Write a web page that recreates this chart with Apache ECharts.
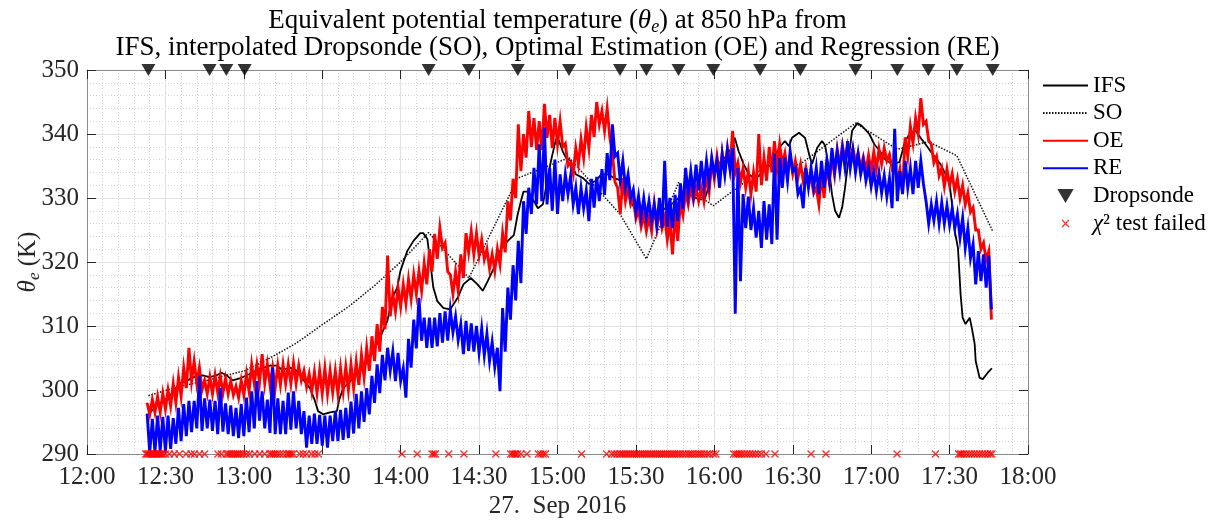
<!DOCTYPE html>
<html>
<head>
<meta charset="utf-8">
<script src="https://cdn.jsdelivr.net/npm/echarts@6/dist/echarts.min.js"></script>
<style>
  html, body { margin: 0; padding: 0; background: #ffffff; }
  #chart { width: 1230px; height: 522px; }
</style>
</head>
<body>
<div id="chart"></div>
<script>
// Time is counted in minutes after 12:00 UTC on 27 Sep 2016.
const timeLabels = ['12:00', '12:30', '13:00', '13:30', '14:00', '14:30', '15:00',
                    '15:30', '16:00', '16:30', '17:00', '17:30', '18:00'];
const thetaTicks = [290, 300, 310, 320, 330, 340, 350];

// Retrieval traces (OE, RE) are stored as upper / lower envelopes of the
// noisy 1 Hz signal, one pair every 2 minutes starting at 12:23.
const binStart = 23;
const binStep = 2;

const oeHigh = [
  298, 298.5, 299, 299.5, 300, 301, 302, 303.5, 306.6, 304.5,
  303.5, 301.5, 302, 302.3, 302.2, 301.8, 301.4, 300.6, 301.5, 302.5,
  304, 304, 305.6, 304, 303.5, 303.8, 304, 304, 304.2, 303.8,
  303, 302.5, 302.8, 303, 303.4, 303, 303, 303.4, 303.6, 304,
  304.4, 305.5, 306.6, 308.4, 310.3, 313, 321, 315, 316, 316.5,
  317.3, 318, 318.6, 319.8, 322, 324.4, 325.3, 323, 318, 318.5,
  321.2, 324.5, 324.8, 324.5, 323.5, 322, 321.2, 322, 324.5, 329.5,
  333, 341.5, 340, 343.6, 342.5, 342, 344.7, 343, 342.5, 342,
  338.5, 335.5, 337.8, 339.2, 341, 343, 345, 343.6, 344, 337,
  331.6, 333.1, 331.6, 330, 328.2, 327.3, 326.9, 329, 328.2, 327,
  326.4, 328, 329.3, 331, 331.8, 331.6, 331.6, 333.5, 335.8, 336.5,
  337, 337.8, 340.5, 335.5, 334.7, 334.2, 334, 340, 336.3, 338,
  338.9, 338.4, 337, 336.5, 335.8, 335.3, 334.7, 333.2, 331.6, 333.5,
  335, 336.3, 337.6, 338.2, 338.2, 337.8, 337, 336.4, 336.7, 337.2,
  337.6, 337.8, 336.8, 335, 334.5, 339.5, 341.2, 342.5, 345.6, 342,
  338.4, 336.5, 334.7, 334.5, 333.8, 333, 332, 330.8, 328.5, 325,
  323, 321.7
];
const oeLow = [
  296.2, 296.5, 296.5, 297, 297.5, 298, 299, 300.3, 301.4, 301,
  300, 299.4, 299.4, 299.6, 299.5, 299.4, 299.2, 298.8, 299.2, 299.8,
  301, 301.2, 301, 300.8, 300.3, 300.8, 301, 301, 301, 301.5,
  300.5, 299.8, 299.5, 299.4, 299.4, 299.6, 299.4, 299.8, 300, 300.3,
  300.8, 302, 303, 304.5, 306, 309.5, 311.5, 312.3, 313, 313.5,
  314.2, 315, 315.5, 316.5, 318.5, 320.5, 322.2, 318.5, 315, 315.5,
  317.5, 321.5, 321.2, 321, 320.4, 319, 318.6, 319.6, 321.5, 326.5,
  330, 334.2, 336.3, 338, 337.5, 337.5, 339.4, 337.8, 338.4, 338,
  335, 333.7, 335.3, 336.3, 337.8, 339.5, 341.5, 340.5, 339.5, 332.5,
  327.5, 329.5, 329, 326.8, 325.5, 324.8, 324.8, 325.3, 325.3, 323.5,
  321.2, 323.3, 327.3, 329, 329.6, 329.5, 329.5, 331, 333, 333.6,
  334.2, 334.7, 334, 332.5, 331.6, 330.6, 331, 332, 332.7, 334,
  334.7, 335.3, 334.2, 333.8, 333.2, 332.7, 332.2, 330.8, 329, 330,
  332.5, 333.6, 335.1, 336, 336.1, 335.6, 334.7, 334.3, 334.2, 334.5,
  335.3, 335.8, 334.5, 332.5, 331, 336.5, 338.6, 340, 341.5, 339,
  335.5, 333.5, 331.8, 332, 331, 330, 329, 327.8, 325, 322,
  320.3, 311
];

const reHigh = [
  296.3, 295.5, 296, 295.8, 296, 295.6, 297.2, 297.8, 298.3, 298.3,
  302.2, 298.7, 298.5, 298.3, 300.3, 297.9, 297.6, 297.2, 297.8, 298.8,
  299.8, 301.4, 299.8, 298.5, 303.5, 298.7, 298.3, 299.6, 299.8, 298.3,
  296.7, 296, 296.3, 296.1, 296, 296, 296.7, 296.9, 297.2, 298.2,
  299.4, 299.8, 300.3, 302.2, 304, 305.5, 306.6, 306, 305.8, 303.4,
  308, 311, 314.4, 311.3, 311.3, 311.3, 312, 312.3, 312.5, 311.5,
  310.3, 310.8, 310.4, 310, 309.6, 308.8, 307.5, 306.6, 312.8, 316,
  319.5, 323.3, 329.5, 331.6, 334.7, 338.4, 341, 334.7, 336, 333.7,
  333.7, 333.4, 331.6, 331.6, 331.2, 333, 333.3, 334.5, 337, 341.5,
  337, 335.8, 333.7, 331.3, 330.3, 330, 329.5, 329, 330, 335.8,
  330, 330.5, 332.3, 334.7, 334.2, 335.2, 335.8, 335.8, 336.3, 335.8,
  336.8, 337.5, 337.8, 334.7, 330.6, 330.2, 328.4, 328, 329.5, 329,
  336.9, 336.3, 336.3, 337.3, 334.7, 331.6, 334.7, 334.7, 334.7, 335.8,
  335.8, 337.8, 337.3, 337.8, 338.9, 337.5, 336.9, 335.8, 334.8, 334.2,
  333.9, 333.5, 333.1, 340.8, 334.2, 335.8, 334.7, 335.8, 335.8, 329.5,
  329, 329.5, 329.3, 328.8, 328.4, 327.5, 326.9, 325.3, 322.8, 321.7,
  321.2, 321
];
const reLow = [
  290.2, 290.3, 290.5, 290.4, 290.8, 291.6, 292, 292.8, 293.4, 294,
  293.6, 294, 293.6, 293.1, 293.5, 293.1, 292.8, 292.5, 292.8, 293.4,
  294, 295.2, 294, 293.3, 293.1, 293.1, 293.1, 293.8, 294, 293.1,
  291, 291.6, 291.6, 291.3, 291, 292, 292, 292.2, 292.5, 293.2,
  294, 295, 296.2, 298, 299.5, 301.5, 303, 301.4, 301.4, 298.8,
  303.5, 306.5, 307.7, 306.6, 306.6, 306.8, 307.4, 307.7, 309, 307.8,
  305.6, 306.1, 306, 305.8, 305.4, 304.5, 303.6, 299.8, 306, 311,
  314, 316.7, 324.4, 327.5, 329, 329.5, 329, 328, 327.5, 329.5,
  330.6, 329, 327.5, 328.4, 326.4, 328.5, 329.5, 330.5, 332.8, 336.5,
  332.7, 331.6, 330, 327.8, 327, 326.9, 326.4, 325.8, 325.3, 325.5,
  325.3, 326.4, 328.3, 330.6, 330.6, 331.2, 331.8, 332.4, 333.7, 331.6,
  333.6, 334.5, 311.9, 317, 325.3, 325, 323.8, 322.2, 323.5, 322.8,
  323.5, 331.6, 332.7, 334.2, 330.6, 328.4, 331.6, 331.6, 330.6, 331.6,
  332.7, 334.2, 334.2, 334.7, 334.7, 334, 333.7, 332.7, 331.8, 331.1,
  330.8, 330.2, 328.4, 329.5, 330.6, 331.6, 330.6, 331.6, 332.2, 326,
  326.5, 326, 326, 325.8, 325.3, 323.8, 322.2, 320.6, 316.5, 317,
  316, 312.6
];

// IFS model column along the flight track [minute, theta_e].
const ifsPoints = [
  [23.8, 296.3], [26.5, 297.5], [30.3, 298.6], [33.4, 299.8], [35.3, 301], [38.4, 301.5],
  [41.9, 302.2], [44.2, 302.3], [46.9, 302], [49.6, 302.3], [51.5, 302.7], [53.4, 302.3],
  [54.5, 301.9], [55.7, 301.5], [58.4, 301.8], [62.2, 302.5], [66, 303.3], [70, 303.8],
  [72.6, 303.8], [74.9, 303.1], [77.6, 303.5], [80.3, 303], [82.6, 301.7], [85.3, 300.3],
  [87.2, 298.3], [88.4, 296.7], [90.3, 296.2], [93, 296.5], [95.6, 296.7], [96.5, 298.5],
  [98, 300.3], [102, 301.9], [105.6, 303.4], [109.5, 306], [112, 308.1], [114.9, 310.8],
  [116.8, 314.4], [118.7, 316], [119.9, 318.6], [122.5, 321.7], [124.9, 323.3], [127.5, 324.5],
  [128.7, 324.5], [130.2, 323.6], [131.4, 319.7], [132.5, 316], [134, 313.9], [136.4, 312.8],
  [139, 312.6], [141.8, 314.4], [144, 316.5], [146.8, 317.5], [149.4, 316.5], [151.4, 315.5],
  [153.3, 317], [155.6, 319], [158.3, 322], [161, 323.3], [163.3, 324.2], [164.8, 327.5],
  [166, 329.5], [167, 331], [168.6, 331], [171, 329.5], [172.5, 328.4], [174.4, 329],
  [175.6, 331.6], [177.5, 335.8], [179.4, 339.2], [180.5, 339], [182, 337.3], [183.2, 336.3],
  [185, 335.8], [187, 333.7], [189.8, 333.1], [192, 332.2], [194.8, 332.7], [196.7, 333.7],
  [199.4, 333.7], [201.7, 333.1], [204.4, 332.7], [207, 330.6], [209.4, 328.4], [212, 326.9],
  [214.7, 326.4], [217, 327.5], [219.7, 328], [223.6, 329], [226.3, 330], [230, 330.6],
  [234, 329.8], [236.3, 329.8], [238.2, 332.2], [239, 334.2], [241.6, 335.3], [244, 336.3],
  [246.6, 337.8], [247.8, 339.4], [249.3, 337.3], [251.2, 335.3], [253.2, 333.7], [255, 333.1],
  [257, 333.4], [259.3, 334.7], [262, 335.2], [264.7, 337.8], [267, 338.9], [268.5, 338.1],
  [269.7, 339.4], [272.4, 340.2], [274.7, 339.4], [276.6, 336.3], [277.4, 335.3], [279.3, 337.8],
  [281.2, 338.9], [282.4, 338.2], [284, 334.2], [285, 330.6], [286.2, 328], [287.7, 326.9],
  [288.9, 328.5], [290, 331.6], [291.6, 336.9], [292.7, 340.5], [294.7, 341.7], [296.6, 341.2],
  [299.3, 340], [301.2, 338.4], [303, 337.5], [305.4, 336], [308, 335.3], [310.8, 335.6],
  [313, 338.9], [315, 340.2], [317, 340.5], [318.9, 339.4], [320.8, 338.4], [322.7, 337.3],
  [324.6, 336.3], [326.5, 335.3], [328.5, 333.7], [330, 332.2], [330.8, 329.5], [332, 324.8],
  [333.2, 322.2], [333.8, 318], [334.2, 315], [335, 311.3], [336.1, 310.3], [337.7, 311.3],
  [338.5, 309.7], [339.6, 307.2], [340, 304.5], [341.5, 301.9], [342.7, 301.7], [344.6, 302.7],
  [346.2, 303.4]
];

// Dropsonde profiles interpolated to the flight track [minute, theta_e].
const soPoints = [
  [23.5, 299.1], [33, 300.3], [46.9, 301.6], [53.3, 302.3], [60.3, 303], [70, 305],
  [80, 307.3], [90, 310.2], [100, 313], [110, 316.3], [120, 320], [130.7, 324.6],
  [146.1, 317.5], [164.8, 333.1], [184.4, 336.3], [203.9, 327.5], [214, 320.5],
  [226.3, 332.4], [239.6, 328.8], [257.5, 334.3], [272.9, 335.3], [294, 341.7],
  [310, 337.6], [321.9, 338.8], [332.8, 336.6], [346.5, 324.8]
];

// Dropsonde release times (minutes after 12:00).
const dropTime = [23.5, 46.9, 53.3, 60.3, 130.7, 146.1, 164.8, 184.4, 203.9, 214,
                  226.3, 239.6, 257.5, 272.9, 294, 310, 321.9, 332.8, 346.5];

// Times where the retrieval chi-square test failed (minutes after 12:00).
const failTime = [
  22.5, 23, 23.5, 24, 24.5, 25, 25.5, 26, 26.5, 27, 27.5, 28, 28.5, 29, 30, 31.5, 33.4,
  35.3, 37.9, 39.8, 41.1, 43, 45,
  50.1, 51.4, 53.3, 54, 54.7, 55.4, 56.1, 56.8, 57.5, 58.2, 59, 59.8, 61, 62.2, 64.2,
  66.1, 68, 69.9, 70.6, 71.3, 72, 72.8, 73.8, 75, 76.3, 77, 77.6, 78.2, 78.9,
  81.4, 82.7, 84, 85.9, 87.2, 88.5,
  120.5, 126.3, 132, 132.7, 133.3, 138.4, 144.2, 156.4, 162.1, 162.8, 163.4, 164,
  164.7, 166, 168.3, 172.7, 173.6, 174.5, 175.4, 189.2, 198.8,
  200.8, 201.8, 202.8, 203.8, 204.6, 205.4, 206.2, 207, 207.8, 208.6, 209.4, 210.2,
  211, 211.8, 212.6, 213.4, 214.2, 215, 215.8, 216.6, 217.4, 218.2, 219, 219.8,
  220.6, 221.4, 222.2, 223, 223.8, 224.6, 225.4, 226.2, 227, 228, 229, 230, 230.8,
  231.6, 232.6, 233.6, 234.4, 235.2, 236.2, 237.2, 238.2, 239.6, 240.6,
  247.4, 248.2, 249, 249.8, 250.6, 251.6, 252.6, 253.6, 254.6, 255.6, 256.8, 258,
  259.7, 263.2, 277, 282.7, 309.9, 324.6,
  333.5, 334.1, 334.7, 335.5, 336.5, 337.5, 338.5, 339.5, 340.5, 341.5, 342.5,
  343.5, 344.5, 345.5, 346.2
];

const titleLines = [
  'Equivalent potential temperature ({it|\u03B8}{sub|e}) at 850\u2009hPa from',
  'IFS, interpolated Dropsonde (SO), Optimal Estimation (OE) and Regression (RE)'
];

// Envelope pairs -> zig-zag trace: upper value on the bin start, lower one minute later.
function envelopeTrace(high, low) {
  const pts = [];
  for (let k = 0; k < high.length; k++) {
    const t = binStart + k * binStep;
    pts.push([t, high[k]]);
    pts.push([t + 1, low[k]]);
  }
  return pts;
}

const SERIF = '"Liberation Serif", "Times New Roman", serif';
const AX = '#262626';
const BOX = '#8a8a8a';
const TITLE_SIZE = 27;

const triangleDown = 'path://M0,0L14,0L7,12Z';
const crossMark = 'path://M0,1.2L1.2,0L5,3.8L8.8,0L10,1.2L6.2,5L10,8.8L8.8,10L5,6.2L1.2,10L0,8.8L3.8,5Z';
const crossLegend = 'path://M-4,-4M14,14M0,1.2L1.2,0L5,3.8L8.8,0L10,1.2L6.2,5L10,8.8L8.8,10L5,6.2L1.2,10L0,8.8L3.8,5Z';

const GRID = { left: 87, right: 202, top: 70, bottom: 68 };
const plotCenterX = GRID.left + (1230 - GRID.left - GRID.right) / 2;

function mathRich(size) {
  return {
    it: { fontFamily: SERIF, fontStyle: 'italic', fontSize: size, lineHeight: 30 },
    sub: { fontFamily: SERIF, fontStyle: 'italic', fontSize: Math.round(size * 0.68), lineHeight: 18, verticalAlign: 'bottom' }
  };
}

const chart = echarts.init(document.getElementById('chart'), null, { renderer: 'canvas' });

const xCommon = { type: 'value', min: 0, max: 360, interval: 30, gridIndex: 0 };
const yCommon = {
  type: 'value', min: thetaTicks[0], max: thetaTicks[thetaTicks.length - 1], interval: 10, gridIndex: 0
};
const hideMarker = { opacity: 0 };

chart.setOption({
  animation: false,
  backgroundColor: '#ffffff',
  grid: Object.assign({ containLabel: false, outerBoundsMode: 'none' }, GRID),
  graphic: [
    {
      type: 'text', x: plotCenterX, y: 21, silent: true,
      style: {
        text: titleLines[0], fill: '#000', fontFamily: SERIF, fontSize: TITLE_SIZE, lineHeight: 30,
        align: 'center', verticalAlign: 'middle', rich: mathRich(TITLE_SIZE)
      }
    },
    {
      type: 'text', x: plotCenterX, y: 48, silent: true,
      style: {
        text: titleLines[1], fill: '#000', fontFamily: SERIF, fontSize: TITLE_SIZE, lineHeight: 30,
        align: 'center', verticalAlign: 'middle'
      }
    }
  ],
  legend: {
    orient: 'vertical',
    left: 1042,
    top: 74,
    padding: 0,
    itemWidth: 45,
    itemHeight: 14,
    itemGap: 4.6,
    selectedMode: false,
    textStyle: {
      fontFamily: SERIF, fontSize: 23, color: '#000',
      rich: { it: { fontFamily: SERIF, fontStyle: 'italic', fontSize: 23 } }
    },
    formatter: function (name) {
      return name === '\u03C7\u00B2 test failed' ? '{it|\u03C7}\u00B2 test failed' : name;
    },
    data: [
      { name: 'IFS', itemStyle: hideMarker, lineStyle: { width: 2 } },
      { name: 'SO', itemStyle: hideMarker },
      { name: 'OE', itemStyle: hideMarker, lineStyle: { width: 2 } },
      { name: 'RE', itemStyle: hideMarker, lineStyle: { width: 2 } },
      { name: 'Dropsonde', icon: triangleDown },
      { name: '\u03C7\u00B2 test failed', icon: crossLegend }
    ]
  },
  xAxis: [
    Object.assign({}, xCommon, {
      position: 'bottom',
      name: '27.  Sep 2016',
      nameLocation: 'middle',
      nameGap: 40,
      nameMoveOverlap: false,
      nameTextStyle: { fontFamily: SERIF, fontSize: 25, color: AX },
      axisLine: { show: true, onZero: false, lineStyle: { color: BOX, width: 1 } },
      axisTick: { show: true, inside: true, length: 9, lineStyle: { color: AX, width: 1 } },
      axisLabel: {
        fontFamily: SERIF, fontSize: 25, color: AX, margin: 11,
        formatter: function (v) { return timeLabels[Math.round(v / 30)]; }
      },
      splitLine: { show: true, lineStyle: { color: '#e2e2e2', width: 1 } },
      minorTick: { show: false, splitNumber: 5 },
      minorSplitLine: { show: true, lineStyle: { color: '#d6d6d6', width: 1, type: [1, 2] } }
    }),
    Object.assign({}, xCommon, {
      position: 'top',
      axisLine: { show: true, onZero: false, lineStyle: { color: BOX, width: 1 } },
      axisTick: { show: true, inside: true, length: 9, lineStyle: { color: AX, width: 1 } },
      axisLabel: { show: false },
      splitLine: { show: false }
    })
  ],
  yAxis: [
    Object.assign({}, yCommon, {
      position: 'left',
      name: '{it|\u03B8}{sub|e} (K)',
      nameLocation: 'middle',
      nameGap: 44,
      nameMoveOverlap: false,
      nameRotate: 90,
      nameTextStyle: { fontFamily: SERIF, fontSize: 25, color: AX, lineHeight: 30, rich: mathRich(25) },
      axisLine: { show: true, onZero: false, lineStyle: { color: BOX, width: 1 } },
      axisTick: { show: true, inside: true, length: 9, lineStyle: { color: AX, width: 1 } },
      axisLabel: { fontFamily: SERIF, fontSize: 25, color: AX, margin: 8 },
      splitLine: { show: true, lineStyle: { color: '#e2e2e2', width: 1 } },
      minorTick: { show: false, splitNumber: 5 },
      minorSplitLine: { show: true, lineStyle: { color: '#d6d6d6', width: 1, type: [1, 2] } }
    }),
    Object.assign({}, yCommon, {
      position: 'right',
      axisLine: { show: true, onZero: false, lineStyle: { color: BOX, width: 1 } },
      axisTick: { show: true, inside: true, length: 9, lineStyle: { color: AX, width: 1 } },
      axisLabel: { show: false },
      splitLine: { show: false }
    })
  ],
  series: [
    {
      name: 'IFS', type: 'line', xAxisIndex: 0, yAxisIndex: 0,
      data: ifsPoints, symbol: 'none', silent: true,
      lineStyle: { color: '#000000', width: 1.8 }, itemStyle: { color: '#000000' }
    },
    {
      name: 'SO', type: 'line', xAxisIndex: 0, yAxisIndex: 0,
      data: soPoints, symbol: 'none', silent: true,
      lineStyle: { color: '#111111', width: 1.5, type: [1.5, 1.5] }, itemStyle: { color: '#111111' }
    },
    {
      name: 'OE', type: 'line', xAxisIndex: 0, yAxisIndex: 0,
      data: envelopeTrace(oeHigh, oeLow), symbol: 'none', silent: true,
      lineStyle: { color: '#ff0000', width: 2.9, join: 'miter' }, itemStyle: { color: '#ff0000' }
    },
    {
      name: 'RE', type: 'line', xAxisIndex: 0, yAxisIndex: 0,
      data: envelopeTrace(reHigh, reLow), symbol: 'none', silent: true,
      lineStyle: { color: '#0000ff', width: 2.9, join: 'miter' }, itemStyle: { color: '#0000ff' }
    },
    {
      name: 'Dropsonde', type: 'scatter', xAxisIndex: 0, yAxisIndex: 0,
      data: dropTime.map(function (t) { return [t, thetaTicks[thetaTicks.length - 1]]; }),
      symbol: triangleDown, symbolSize: [14, 12], clip: false, silent: true, z: 6,
      itemStyle: { color: '#000000' }
    },
    {
      name: '\u03C7\u00B2 test failed', type: 'scatter', xAxisIndex: 0, yAxisIndex: 0,
      data: failTime.map(function (t) { return [t, thetaTicks[0]]; }),
      symbol: crossMark, symbolSize: 8, clip: false, silent: true, z: 6,
      itemStyle: { color: '#ff0000' }
    }
  ]
});
</script>
</body>
</html>
